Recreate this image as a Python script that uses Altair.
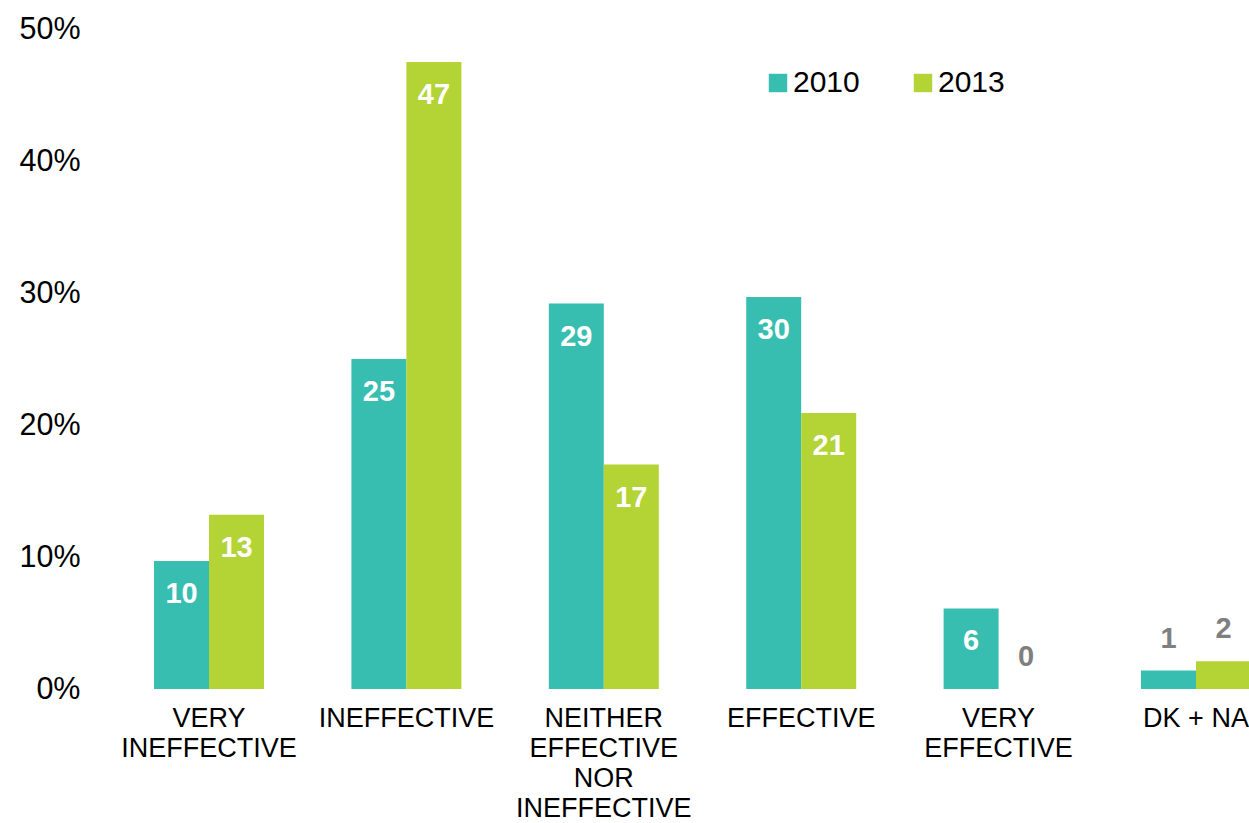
import altair as alt
import pandas as pd

categories = ["VERY\nINEFFECTIVE", "INEFFECTIVE", "NEITHER\nEFFECTIVE\nNOR\nINEFFECTIVE",
              "EFFECTIVE", "VERY\nEFFECTIVE", "DK + NA"]
years = ["2010", "2013"]
values_2010 = [9.7, 25.0, 29.2, 29.7, 6.1, 1.4]
values_2013 = [13.2, 47.5, 17.0, 20.9, 0.0, 2.1]
labels_2010 = [10, 25, 29, 30, 6, 1]
labels_2013 = [13, 47, 17, 21, 0, 2]
y_ticks = [0, 10, 20, 30, 40, 50]
colors = ["#38BEB0", "#B4D335"]

rows = []
for i, c in enumerate(categories):
    rows.append({"cat": c, "year": years[0], "value": values_2010[i], "label": labels_2010[i]})
    rows.append({"cat": c, "year": years[1], "value": values_2013[i], "label": labels_2013[i]})
df = pd.DataFrame(rows)

FONT = "Liberation Sans"

x = alt.X("cat:N", sort=categories, title=None,
          scale=alt.Scale(range=[0, 1205], paddingInner=0.4428, paddingOuter=0.2736),
          axis=alt.Axis(labelAngle=0, domain=False, ticks=False, tickSize=0, labelPadding=16,
                        labelFontSize=27, labelLineHeight=30, labelColor="#000000",
                        labelFont=FONT, labelExpr="split(datum.label, '\\n')",
                        labelBaseline="top", labelLimit=400))
xo = alt.XOffset("year:N", sort=years, scale=alt.Scale(paddingInner=0, paddingOuter=0))
y = alt.Y("value:Q", title=None,
          scale=alt.Scale(domain=[0, 50], nice=False, zero=True),
          axis=alt.Axis(values=y_ticks, domain=False, ticks=False, tickSize=0, grid=False,
                        labelPadding=20, labelFontSize=30.5, labelColor="#000000", labelFont=FONT,
                        labelExpr="datum.value + '%'"))

bars = alt.Chart(df).mark_bar().encode(
    x=x, xOffset=xo, y=y,
    color=alt.Color("year:N", sort=years, scale=alt.Scale(domain=years, range=colors),
                    legend=alt.Legend(title=None, orient="none", legendX=663, legendY=39,
                                      direction="horizontal", symbolType="square",
                                      symbolSize=340, symbolStrokeWidth=0, labelFontSize=30,
                                      labelFont=FONT, labelColor="#000000", labelOffset=0,
                                      columnPadding=48, padding=0))
)

inside = alt.Chart(df).transform_filter("datum.value >= 5").mark_text(
    color="white", fontWeight="bold", fontSize=29, font=FONT, baseline="middle", dy=33
).encode(x=x, xOffset=xo, y=y, text="label:N")

outside = alt.Chart(df).transform_filter("datum.value < 5").mark_text(
    color="#7F7F7F", fontWeight="bold", fontSize=29, font=FONT, baseline="middle", dy=-32
).encode(x=x, xOffset=xo, y=y, text="label:N")

chart = alt.layer(bars, inside, outside).properties(
    width=1149, height=660,
    autosize=alt.AutoSizeParams(type="none"),
    padding={"left": 100, "top": 29, "right": 0, "bottom": 133},
).configure_view(stroke=None)

chart.save("out.html", embed_options={"renderer": "svg", "actions": False})
